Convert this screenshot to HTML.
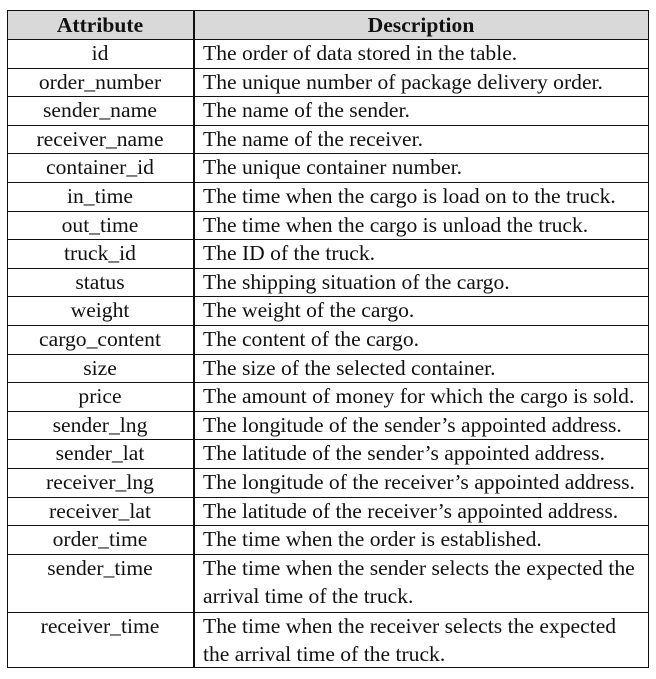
<!DOCTYPE html>
<html><head><style>
body{margin:0;width:656px;height:679px;background:#fff;position:relative;font-family:"Liberation Serif","Times New Roman",serif;font-size:21.6px;color:#111;overflow:hidden}
.r{position:absolute;left:7px;width:642px;border-top:1.5px solid #111;box-sizing:border-box}
.a{position:absolute;left:0;width:186px;text-align:center;top:-1px;line-height:28px}
.d{position:absolute;left:196px;top:-1px;line-height:28px;white-space:nowrap}
</style></head><body>
<div style="position:absolute;left:7px;top:10px;width:642px;height:658px;border:1.5px solid #111;box-sizing:border-box"></div>
<div style="position:absolute;left:8px;top:11px;width:640px;height:28px;background:#d9d9d9"></div>
<div style="position:absolute;left:193px;top:10px;width:1.5px;height:658px;background:#111"></div>
<div class="r" style="top:10px;height:29px;border-top:none;font-weight:bold"><div class="a" style="top:1px">Attribute</div><div class="d" style="left:186px;width:456px;text-align:center;top:1px">Description</div></div>
<div id="rows"></div>
<script>
const R=[["id","The order of data stored in the table."],["order_number","The unique number of package delivery order."],["sender_name","The name of the sender."],["receiver_name","The name of the receiver."],["container_id","The unique container number."],["in_time","The time when the cargo is load on to the truck."],["out_time","The time when the cargo is unload the truck."],["truck_id","The ID of the truck."],["status","The shipping situation of the cargo."],["weight","The weight of the cargo."],["cargo_content","The content of the cargo."],["size","The size of the selected container."],["price","The amount of money for which the cargo is sold."],["sender_lng","The longitude of the sender’s appointed address."],["sender_lat","The latitude of the sender’s appointed address."],["receiver_lng","The longitude of the receiver’s appointed address."],["receiver_lat","The latitude of the receiver’s appointed address."],["order_time","The time when the order is established."],["sender_time","The time when the sender selects the expected the<br>arrival time of the truck."],["receiver_time","The time when the receiver selects the expected<br>the arrival time of the truck."]];
let h="";let y=39;
R.forEach((r,i)=>{const hh=i<18?28.6:(i==18?58:56);h+=`<div class="r" style="top:${y}px;height:${hh}px"><div class="a">${r[0]}</div><div class="d">${r[1]}</div></div>`;y+=hh;});
document.getElementById("rows").innerHTML=h;
</script>
</body></html>
